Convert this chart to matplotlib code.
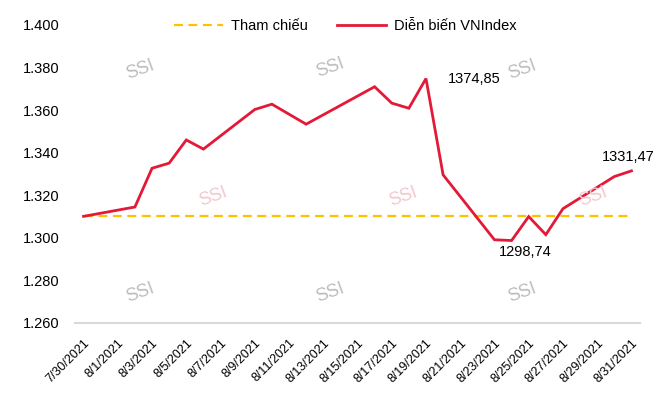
import matplotlib
matplotlib.use("Agg")
import matplotlib.pyplot as plt
import pandas as pd
from matplotlib import font_manager

# VNIndex closing values
dates = ["2021-07-30", "2021-08-02", "2021-08-03", "2021-08-04", "2021-08-05",
         "2021-08-06", "2021-08-09", "2021-08-10", "2021-08-12", "2021-08-16",
         "2021-08-17", "2021-08-18", "2021-08-19", "2021-08-20", "2021-08-23",
         "2021-08-24", "2021-08-25", "2021-08-26", "2021-08-27", "2021-08-30",
         "2021-08-31"]
vnindex = [1310.1, 1314.5, 1332.7, 1335.1, 1346.0,
           1341.7, 1360.3, 1362.8, 1353.4, 1371.0,
           1363.3, 1360.9, 1374.85, 1329.6, 1299.1,
           1298.74, 1310.0, 1301.5, 1313.7, 1328.8,
           1331.47]
reference = 1310.1
yticks = [1260, 1280, 1300, 1320, 1340, 1360, 1380, 1400]
callouts = [("2021-08-19", 1374.85, "1374,85"),
            ("2021-08-24", 1298.74, "1298,74"),
            ("2021-08-31", 1331.47, "1331,47")]

x = pd.to_datetime(dates)
start, end = x[0], x[-1]
tick_dates = pd.date_range(start, end, freq="2D")
tick_labels = [f"{d.month}/{d.day}/{d.year}" for d in tick_dates]

names = {f.name for f in font_manager.fontManager.ttflist}
fam = ["Liberation Sans Narrow", "DejaVu Sans"] if "Liberation Sans Narrow" in names else ["Liberation Sans", "DejaVu Sans"]
plt.rcParams["font.family"] = fam

RED = "#E31937"
YEL = "#FFC000"

fig = plt.figure(figsize=(6.6, 3.96), dpi=100)
ax = fig.add_axes([75/660, 1 - 323/396, 565/660, 298/396])

# watermarks
wm = [(140, 70, "#bdbdbd"), (330, 68, "#bdbdbd"), (522, 70, "#bdbdbd"),
      (213, 197, "#f2c8cf"), (403, 197, "#f2c8cf"), (593, 197, "#f2c8cf"),
      (140, 293, "#bdbdbd"), (330, 293, "#bdbdbd"), (522, 293, "#bdbdbd")]
for px, py, c in wm:
    fig.text(px/660, 1 - py/396, "SSI", color=c, fontsize=13, rotation=20,
             ha="center", va="center", family=["Liberation Sans", "DejaVu Sans"], zorder=0)

ax.plot([start, end], [reference, reference], color=YEL, lw=1.6, ls=(0, (4, 2.5)), label="Tham chiếu")
ax.plot(x, vnindex, color=RED, lw=2.0, label="Diễn biến VNIndex", solid_joinstyle="miter")

for d, v, t in callouts:
    dt = pd.Timestamp(d)
    if t == "1374,85":
        ax.annotate(t, (dt, v), xytext=(16, 0), textcoords="offset points", ha="left", va="center", fontsize=10.5)
    elif t == "1298,74":
        ax.annotate(t, (dt, v), xytext=(10, -8), textcoords="offset points", ha="center", va="center", fontsize=10.5)
    else:
        ax.annotate(t, (dt, v), xytext=(-2, 10), textcoords="offset points", ha="center", va="center", fontsize=10.5)

ax.set_xlim(start - pd.Timedelta(hours=12), end + pd.Timedelta(hours=12))
ax.set_ylim(1260, 1400)
ax.set_yticks(yticks)
ax.set_yticklabels([f"{v//1000}.{v%1000:03d}" for v in yticks], fontsize=10.5)
ax.set_xticks(tick_dates)
ax.set_xticklabels(tick_labels, rotation=45, ha="right", rotation_mode="anchor", fontsize=9)
ax.tick_params(axis="both", length=0)
ax.tick_params(axis="y", pad=11)
ax.tick_params(axis="x", pad=10)
for s in ["top", "right", "left"]:
    ax.spines[s].set_visible(False)
ax.spines["bottom"].set_color("#d9d9d9")
ax.spines["bottom"].set_linewidth(1.5)
ax.set_facecolor("none")

fig.legend(loc="center", bbox_to_anchor=(345/660, 1 - 26/396), ncol=2, frameon=False,
           fontsize=10.5, handlelength=3.4, columnspacing=2.0, handletextpad=0.5)

fig.savefig("out.png", dpi=100)
